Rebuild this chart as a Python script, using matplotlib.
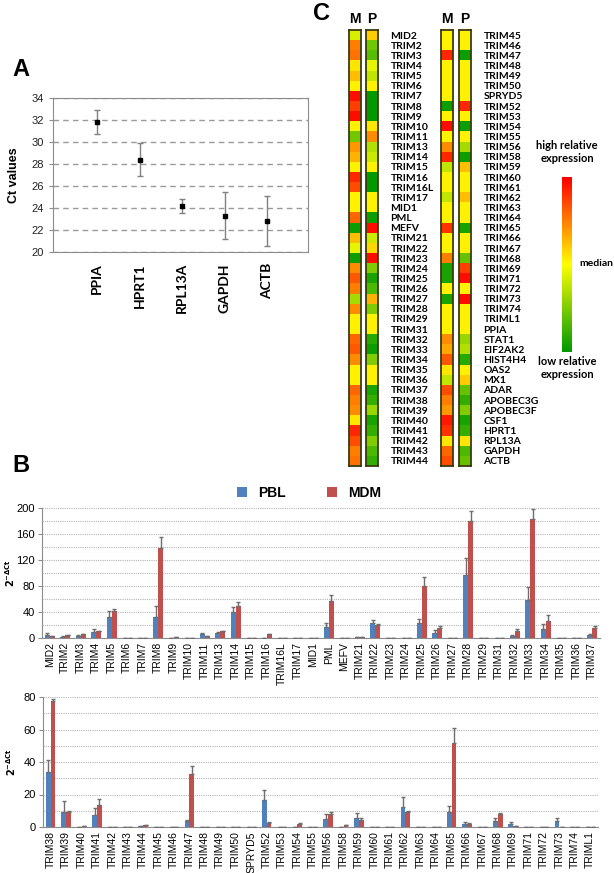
import numpy as np
import matplotlib.pyplot as plt
from matplotlib.colors import LinearSegmentedColormap

#%% Data
# panel A: Ct values of the reference genes
ref_genes = ['PPIA', 'HPRT1', 'RPL13A', 'GAPDH', 'ACTB']
ct_mean = [31.8, 28.4, 24.15, 23.3, 22.8]
ct_err = [1.1, 1.5, 0.65, 2.15, 2.25]

# panel C: relative expression (-1 low / green, 0 median / yellow, +1 high / red)
heat_left_genes = ['MID2', 'TRIM2', 'TRIM3', 'TRIM4', 'TRIM5', 'TRIM6', 'TRIM7', 'TRIM8',
                   'TRIM9', 'TRIM10', 'TRIM11', 'TRIM13', 'TRIM14', 'TRIM15', 'TRIM16',
                   'TRIM16L', 'TRIM17', 'MID1', 'PML', 'MEFV', 'TRIM21', 'TRIM22', 'TRIM23',
                   'TRIM24', 'TRIM25', 'TRIM26', 'TRIM27', 'TRIM28', 'TRIM29', 'TRIM31',
                   'TRIM32', 'TRIM33', 'TRIM34', 'TRIM35', 'TRIM36', 'TRIM37', 'TRIM38',
                   'TRIM39', 'TRIM40', 'TRIM41', 'TRIM42', 'TRIM43', 'TRIM44']
heat_left_M = [-0.15, 0.5, 0.55, 0.1, 0.25, 0.05, 0.95, 0.75, 0.95, 0.05, -0.55, 0.4, 0.3,
               0.05, 0.85, 0.7, 0.05, 0.05, 0.6, -0.95, 0.25, -0.1, -0.95, 0.45, 0.65, 0.5,
               -0.35, 0.45, 0.05, 0.05, 0.6, 0.65, 0.45, 0.05, 0.05, 0.6, 0.5, 0.45, 0.1,
               0.85, 0.7, 0.5, 0.55]
heat_left_P = [0.2, -0.55, -0.65, -0.1, -0.25, 0.05, -1.0, -1.0, -1.0, 0.1, 0.45, -0.3, -0.2,
               0.05, -1.0, -1.0, 0.05, 0.05, -0.95, 0.95, -0.2, 0.15, 0.95, -0.5, -0.9, -0.7,
               0.3, -0.5, 0.05, 0.05, -0.85, -0.95, -0.5, 0.05, 0.05, -0.9, -0.8, -0.4, -0.9,
               -0.8, -0.5, -0.7, -0.8]
heat_right_genes = ['TRIM45', 'TRIM46', 'TRIM47', 'TRIM48', 'TRIM49', 'TRIM50', 'SPRYD5',
                    'TRIM52', 'TRIM53', 'TRIM54', 'TRIM55', 'TRIM56', 'TRIM58', 'TRIM59',
                    'TRIM60', 'TRIM61', 'TRIM62', 'TRIM63', 'TRIM64', 'TRIM65', 'TRIM66',
                    'TRIM67', 'TRIM68', 'TRIM69', 'TRIM71', 'TRIM72', 'TRIM73', 'TRIM74',
                    'TRIML1', 'PPIA', 'STAT1', 'EIF2AK2', 'HIST4H4', 'OAS2', 'MX1', 'ADAR',
                    'APOBEC3G', 'APOBEC3F', 'CSF1', 'HPRT1', 'RPL13A', 'GAPDH', 'ACTB']
heat_right_M = [0.05, 0.05, 0.85, 0.05, 0.05, 0.05, 0.05, -0.95, 0.05, 0.95, 0.05, 0.45,
                0.85, -0.25, 0.05, 0.05, -0.25, 0.05, 0.05, 0.8, 0.05, 0.05, 0.5, -0.9, -0.9,
                0.05, -0.9, 0.05, 0.05, 0.05, 0.45, 0.35, 0.65, 0.1, -0.25, 0.7, 0.5, 0.4,
                0.9, 0.8, 0.1, 0.6, 0.7]
heat_right_P = [0.05, 0.05, -0.95, 0.05, 0.05, 0.05, 0.05, 0.85, 0.05, -0.95, 0.05, -0.35,
                -0.95, 0.25, 0.05, 0.05, 0.25, 0.05, 0.05, -0.9, 0.05, 0.05, -0.6, 0.75, 0.95,
                0.05, 0.95, 0.05, 0.05, 0.05, -0.4, -0.3, -0.85, 0.05, 0.2, -0.6, -0.8, -0.5,
                -0.9, -0.8, 0.1, -0.7, -0.6]

# panel B: 2^-dCt, PBL / MDM, with upper error
top_genes = ['MID2', 'TRIM2', 'TRIM3', 'TRIM4', 'TRIM5', 'TRIM6', 'TRIM7', 'TRIM8', 'TRIM9',
             'TRIM10', 'TRIM11', 'TRIM13', 'TRIM14', 'TRIM15', 'TRIM16', 'TRIM16L', 'TRIM17',
             'MID1', 'PML', 'MEFV', 'TRIM21', 'TRIM22', 'TRIM23', 'TRIM24', 'TRIM25', 'TRIM26',
             'TRIM27', 'TRIM28', 'TRIM29', 'TRIM31', 'TRIM32', 'TRIM33', 'TRIM34', 'TRIM35',
             'TRIM36', 'TRIM37']
top_pbl = [5, 2, 3, 9.5, 32, 0, 0, 32, 0, 0, 6, 7, 40, 0, 0.5, 0.5, 0, 0, 17.5, 0, 1, 22.5, 0,
           0.5, 22.5, 8, 0.5, 97.5, 0, 0, 3, 58.5, 14.5, 0, 0, 4]
top_pbl_err = [2, 0.5, 1, 5, 9, 0, 0, 17, 0, 0, 2, 2, 8, 0, 0, 0, 0, 0, 5, 0, 0.3, 5, 0, 0, 6,
               5, 0, 25, 0, 0, 2, 20.5, 7.5, 0, 0, 2]
top_mdm = [3, 4, 6, 11, 42, 0, 0, 138, 1, 0, 3, 10.5, 50, 0, 6, 0.5, 0, 0, 57, 0, 2, 20.5, 0,
           0.5, 80, 16, 0.5, 180, 0, 0, 10.5, 182.5, 26, 0, 0, 15.5]
top_mdm_err = [0.5, 1, 0.5, 0.5, 3, 0, 0, 17, 0.3, 0, 0.5, 0.5, 6, 0, 0.5, 0, 0, 0, 9, 0, 0.3,
               0.5, 0, 0, 14, 3, 0, 15, 0, 0, 3, 15.5, 10, 0, 0, 2.5]

bot_genes = ['TRIM38', 'TRIM39', 'TRIM40', 'TRIM41', 'TRIM42', 'TRIM43', 'TRIM44', 'TRIM45',
             'TRIM46', 'TRIM47', 'TRIM48', 'TRIM49', 'TRIM50', 'SPRYD5', 'TRIM52', 'TRIM53',
             'TRIM54', 'TRIM55', 'TRIM56', 'TRIM58', 'TRIM59', 'TRIM60', 'TRIM61', 'TRIM62',
             'TRIM63', 'TRIM64', 'TRIM65', 'TRIM66', 'TRIM67', 'TRIM68', 'TRIM69', 'TRIM71',
             'TRIM72', 'TRIM73', 'TRIM74', 'TRIML1']
bot_pbl = [34, 9, 0, 7.5, 0, 0, 0.4, 0, 0, 4, 0, 0, 0, 0, 16.5, 0, 0, 0, 4.8, 0.3, 5.8, 0, 0,
           12.3, 0, 0, 9, 2, 0.3, 3.5, 2, 0.3, 0, 3.8, 0, 0]
bot_pbl_err = [7, 7, 0, 4, 0, 0, 0, 0, 0, 0.3, 0, 0, 0, 0, 6, 0, 0, 0, 3.3, 0, 3, 0, 0, 6, 0,
               0, 4, 1, 0, 2, 1, 0, 0, 2, 0, 0]
bot_mdm = [77.5, 9, 0.4, 13.5, 0, 0, 1.2, 0, 0, 32.5, 0, 0, 0, 0, 2.5, 0, 2, 0, 8.2, 1, 4.4, 0,
           0, 9.4, 0, 0, 52, 2, 0, 8.2, 0.4, 0, 0, 0, 0, 0]
bot_mdm_err = [1.5, 1, 0, 4, 0, 0, 0.2, 0, 0, 5, 0, 0, 0, 0, 0.5, 0, 0.5, 0, 1.2, 0.2, 1.2, 0,
               0, 0.6, 0, 0, 9, 0.5, 0, 0.3, 0, 0, 0, 0, 0, 0]

#%% Figure helpers
W, H = 614, 873
fig = plt.figure(figsize=(W / 100, H / 100), dpi=100)
plt.rcParams['font.family'] = ['Liberation Sans', 'DejaVu Sans']


def box(x0, y0, x1, y1):
    # pixel box (from top-left) -> figure fraction rect
    return [x0 / W, 1 - y1 / H, (x1 - x0) / W, (y1 - y0) / H]


def fy(y):
    return 1 - y / H


grey = '#8c8c8c'

#%% Panel A
axA = fig.add_axes(box(53, 98, 308, 252))
xa = np.arange(len(ref_genes))
axA.errorbar(xa, ct_mean, yerr=ct_err, fmt='s', color='black', ms=3, ecolor='#808080',
             elinewidth=1, capsize=2, capthick=1, zorder=3)
axA.set_xlim(-1.04, 4.96)
axA.set_ylim(20, 34)
axA.set_yticks(range(20, 35, 2))
axA.yaxis.grid(True, ls=(0, (4, 3)), color='#9a9a9a', lw=1)
axA.set_axisbelow(True)
axA.set_xticks(xa)
axA.set_xticklabels(ref_genes, rotation=90, fontsize=10, fontweight='bold', family='Lato')
axA.tick_params(axis='x', length=0, pad=8)
axA.tick_params(axis='y', length=3, color=grey, labelsize=8, labelcolor='#222222')
for s in axA.spines.values():
    s.set_color(grey)
axA.set_ylabel('Ct values', fontsize=9, fontweight='bold')
axA.yaxis.set_label_coords(-0.13, 0.5)
fig.text(12 / W, fy(76), 'A', fontsize=17, fontweight='bold')

#%% Panel C
cmap = LinearSegmentedColormap.from_list('expr', ['#009a00', '#ffff00', '#ff0000'])
top_c, bot_c = 30, 466


def heat_col(x0, x1, vals, labels=None):
    ax = fig.add_axes(box(x0, top_c, x1, bot_c))
    ax.imshow(np.array(vals)[:, None], cmap=cmap, vmin=-1, vmax=1, aspect='auto',
              interpolation='nearest')
    ax.set_xticks([])
    for s in ax.spines.values():
        s.set_color('#3a3a10')
        s.set_linewidth(1.3)
    if labels is None:
        ax.set_yticks([])
    else:
        ax.yaxis.tick_right()
        ax.set_yticks(range(len(labels)))
        ax.set_yticklabels(labels, fontsize=7.5, fontweight='bold', family='Lato')
        ax.tick_params(axis='y', length=0, pad=9)
    return ax


heat_col(349, 361, heat_left_M)
heat_col(366, 378, heat_left_P, heat_left_genes)
heat_col(441, 453, heat_right_M)
heat_col(459, 471, heat_right_P, heat_right_genes)
for xc, t in [(355, 'M'), (372, 'P'), (447, 'M'), (465, 'P')]:
    fig.text(xc / W, fy(19), t, fontsize=10, fontweight='bold', ha='center', va='center')
fig.text(313 / W, fy(20), 'C', fontsize=17, fontweight='bold')

# colour scale legend
axL = fig.add_axes(box(562, 177, 572, 352))
axL.imshow(np.linspace(1, -1, 100)[:, None], cmap=cmap, vmin=-1, vmax=1, aspect='auto')
axL.axis('off')
fig.text(567 / W, fy(152), 'high relative\nexpression', fontsize=8, fontweight='bold',
         family='Lato', ha='center', va='center', linespacing=1.2)
fig.text(579 / W, fy(264), 'median', fontsize=7.5, fontweight='bold', family='Lato',
         va='center')
fig.text(567 / W, fy(368), 'low relative\nexpression', fontsize=8, fontweight='bold',
         family='Lato', ha='center', va='center', linespacing=1.2)

#%% Panel B
blue, red = '#4f81bd', '#c0504d'


def bar_panel(rect, genes, pbl, pbl_e, mdm, mdm_e, ymax, major, minor):
    ax = fig.add_axes(box(*rect))
    x = np.arange(len(genes))
    w = 0.31
    z = np.zeros(len(genes))
    ekw = dict(ecolor='#6e6e6e', elinewidth=1, capsize=1.5, capthick=1)
    b1 = ax.bar(x - w / 2, pbl, w, color=blue, yerr=[z, pbl_e], error_kw=ekw, zorder=3)
    b2 = ax.bar(x + w / 2, mdm, w, color=red, yerr=[z, mdm_e], error_kw=ekw, zorder=3)
    ax.set_xlim(-0.5, len(genes) - 0.5)
    ax.set_ylim(0, ymax)
    ax.set_yticks(np.arange(0, ymax + 1, major))
    ax.set_yticks(np.arange(0, ymax + 1, minor), minor=True)
    ax.yaxis.grid(True, which='both', ls=(0, (1, 1)), color='#b5b5b5', lw=0.8)
    ax.set_axisbelow(True)
    ax.set_xticks(x)
    ax.set_xticklabels(genes, rotation=90, fontsize=7.5)
    ax.tick_params(axis='x', length=0, pad=3)
    ax.tick_params(axis='y', which='major', length=3, color=grey, labelsize=8, pad=2)
    ax.tick_params(axis='y', which='minor', length=0)
    for s in ['top', 'right']:
        ax.spines[s].set_visible(False)
    for s in ['left', 'bottom']:
        ax.spines[s].set_color(grey)
    ax.set_ylabel(r'$\mathbf{2^{-\Delta Ct}}$', fontsize=7)
    ax.yaxis.set_label_coords(-0.045, 0.5)
    return b1, b2


b1, b2 = bar_panel((42, 508, 600, 638), top_genes, top_pbl, top_pbl_err, top_mdm,
                   top_mdm_err, 200, 40, 20)
bar_panel((43, 697, 598, 827), bot_genes, bot_pbl, bot_pbl_err, bot_mdm, bot_mdm_err,
          80, 20, 10)
fig.legend([b1, b2], ['PBL', 'MDM'], loc='center', bbox_to_anchor=(309 / W, fy(493)),
           ncol=2, frameon=False, handlelength=0.7, handleheight=0.7, columnspacing=3,
           prop={'size': 10, 'weight': 'bold'})
fig.text(12 / W, fy(472), 'B', fontsize=17, fontweight='bold')

plt.savefig('out.png', dpi=100)
